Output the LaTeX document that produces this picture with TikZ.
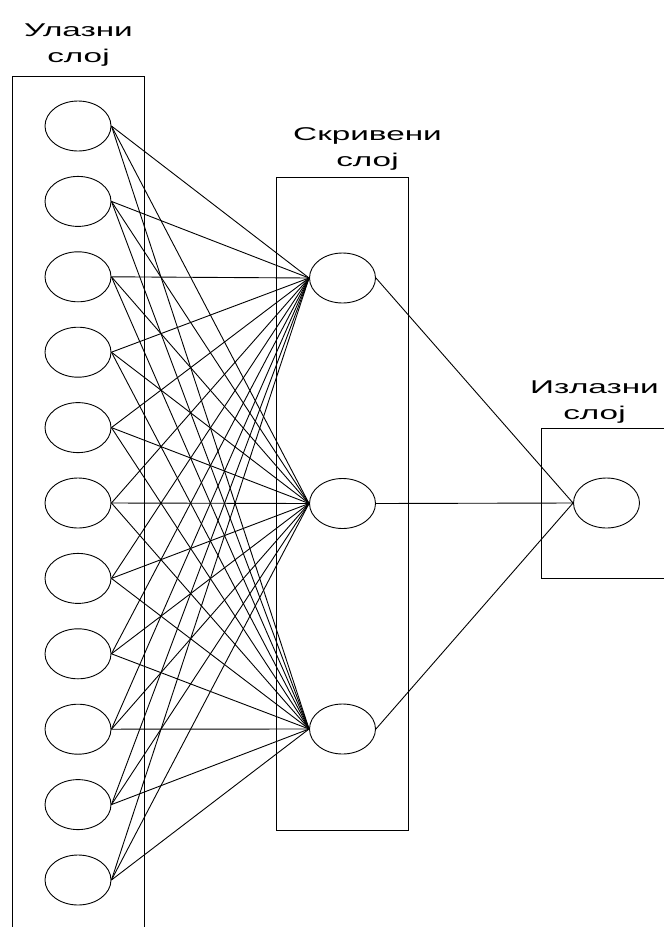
\documentclass[tikz,border=0pt]{standalone}
\usepackage{fontspec}
\setmainfont{Liberation Sans}
\newfontfamily\capfont[FakeStretch=1.8]{Liberation Sans}
\usepackage{tikz}
\tikzset{
    neuron/.style={ellipse,draw=black,minimum width=66pt,minimum height=50pt,inner sep=0pt},
    layer/.style={rectangle,draw=black,line width=1.1pt,inner sep=0pt,anchor=north west},
    caption/.style={align=center,font=\capfont\fontsize{18.5}{26}\selectfont,inner sep=0pt,anchor=south},
}
\usetikzlibrary{shapes}
\usetikzlibrary{positioning}

\begin{document}
\begin{tikzpicture}[x=1pt,y=-1pt,line width=0.9pt]
\useasboundingbox (0,0) rectangle (664,927);
\node[layer,minimum width=132pt,minimum height=880pt](InLayer) at (12,76) {};
\node[layer,minimum width=132pt,minimum height=653pt](HidLayer) at (276,177) {};
\node[layer,minimum width=135pt,minimum height=150pt](OutLayer) at (541,428) {};
\node[caption](InCap) at (78.5,67) {Улазни\\слој};
\node[caption](HidCap) at (367.5,171) {Скривени\\слој};
\node[caption](OutCap) at (594.5,424) {Излазни\\слој};
\foreach \i in {1,...,11}
    \node[neuron](In\i) at (78,{126+(\i-1)*75.4}) {};
\node[neuron](Hid1) at (342.5,278) {};
\node[neuron](Hid2) at (342.5,503.5) {};
\node[neuron](Hid3) at (342.5,729) {};
\node[neuron](Out) at (606.5,503) {};
\foreach \i in {1,...,11}
    \foreach \j in {1,2,3}
        \draw (In\i.east) -- (Hid\j.west);
\foreach \j in {1,2,3}
    \draw (Hid\j.east) -- (Out.west);
\end{tikzpicture}
\end{document}
